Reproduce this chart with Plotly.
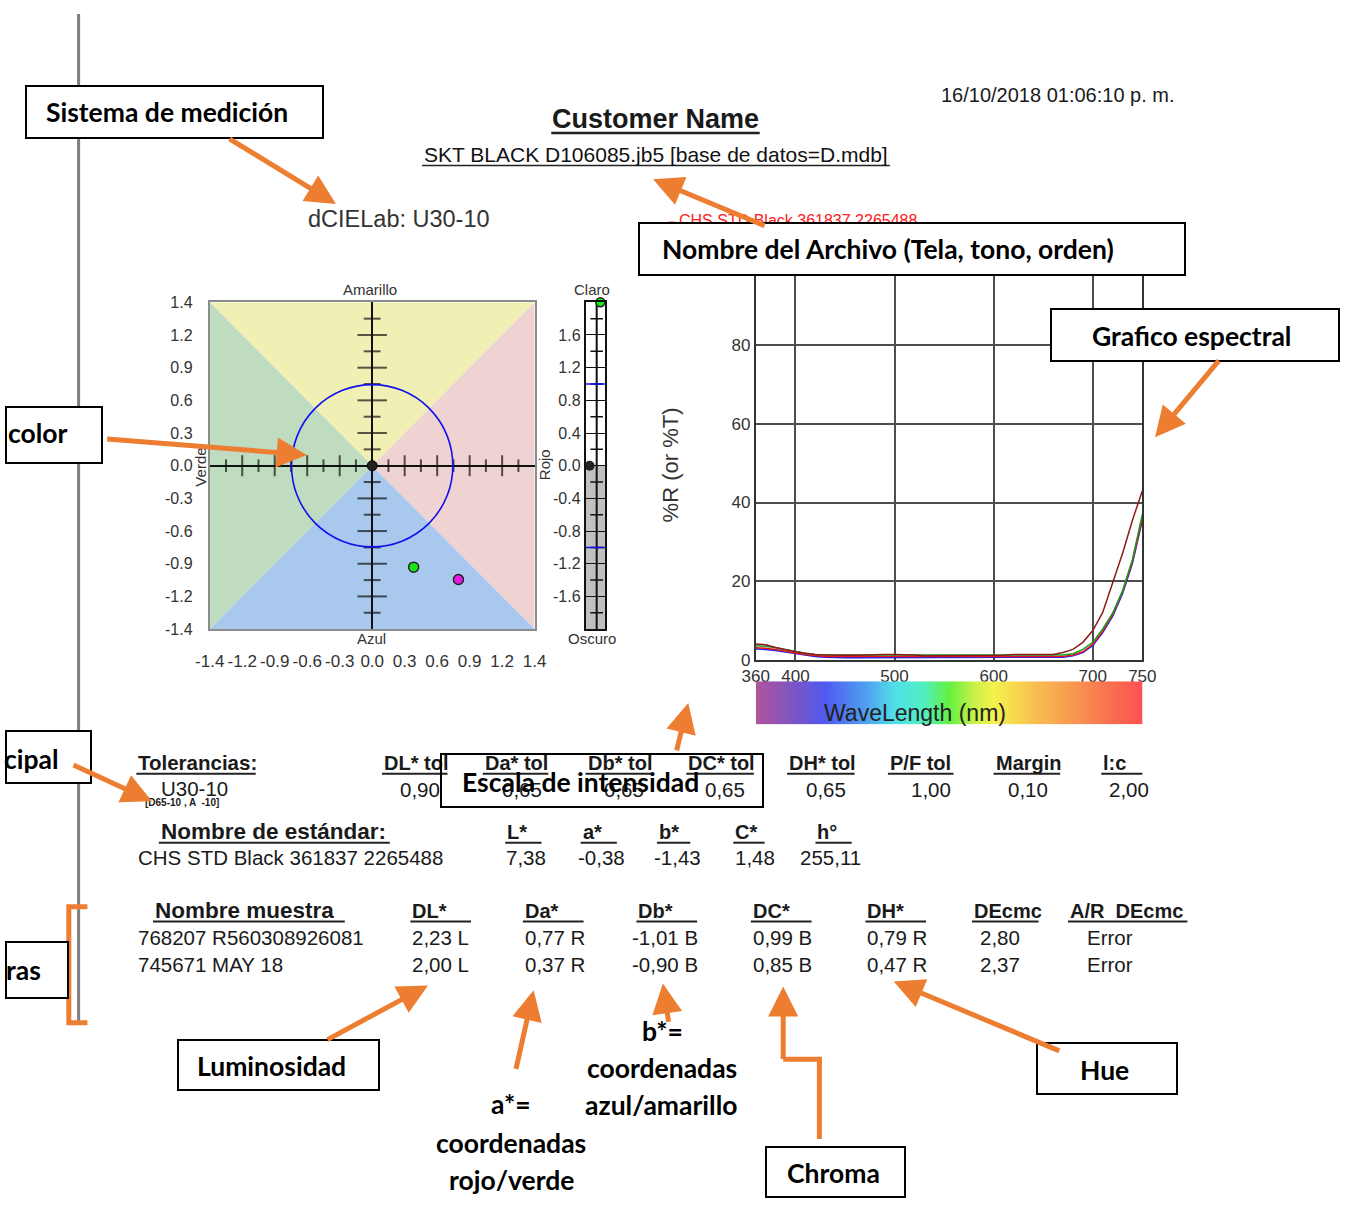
import plotly.graph_objects as go

# ---------------- DATA ----------------
AB_TICK_TEXT = ['-1.4', '-1.2', '-0.9', '-0.6', '-0.3', '0.0', '0.3', '0.6', '0.9', '1.2', '1.4']
AB_LIM = 1.45
AB_STEP = 0.29
TOL_RADIUS = 0.72
L_TICK_VALS = [1.6, 1.2, 0.8, 0.4, 0.0, -0.4, -0.8, -1.2, -1.6]
L_TICK_TEXT = ['1.6', '1.2', '0.8', '0.4', '0.0', '-0.4', '-0.8', '-1.2', '-1.6']
L_LIM = 2.0
L_TOL = 1.0

STD_NAME = "CHS STD Black 361837 2265488"
STD_HEADERS = ['L*', 'a*', 'b*', 'C*', 'h°']
STD_VALUES = [7.38, -0.38, -1.43, 1.48, 255.11]

TOL_NAME = "U30-10"
TOL_ILLUM = "[D65-10 , A  -10]"
TOL_HEADERS = ['DL* tol', 'Da* tol', 'Db* tol', 'DC* tol', 'DH* tol', 'P/F tol', 'Margin', 'l:c']
TOL_VALUES = [0.90, 0.65, 0.65, 0.65, 0.65, 1.00, 0.10, 2.00]

SAMPLE_HEADERS = ['DL*', 'Da*', 'Db*', 'DC*', 'DH*', 'DEcmc', 'A/R  DEcmc']
SAMPLE_NAMES = ["768207 R560308926081", "745671 MAY 18"]
DL = [2.23, 2.00]
DL_TAG = ['L', 'L']
DA = [0.77, 0.37]
DA_TAG = ['R', 'R']
DB = [-1.01, -0.90]
DB_TAG = ['B', 'B']
DC = [0.99, 0.85]
DC_TAG = ['B', 'B']
DH = [0.79, 0.47]
DH_TAG = ['R', 'R']
DECMC = [2.80, 2.37]
AR = ['Error', 'Error']
SAMPLE_COLORS = ['#e619e6', '#19e619']

WAVELENGTHS = [360, 370, 380, 390, 400, 410, 420, 430, 440, 450, 460, 470, 480, 490, 500,
               510, 520, 530, 540, 550, 560, 570, 580, 590, 600, 610, 620, 630, 640, 650,
               660, 670, 680, 690, 700, 710, 720, 730, 740, 750]
R_MAROON = [4.0, 3.8, 3.1, 2.5, 2.0, 1.6, 1.3, 1.2, 1.1, 1.1, 1.1, 1.2, 1.3, 1.3, 1.3,
            1.3, 1.2, 1.0, 1.0, 1.0, 1.0, 1.0, 1.0, 1.0, 1.0, 1.1, 1.3, 1.3, 1.3, 1.3,
            1.3, 1.8, 2.6, 4.4, 7.4, 12.0, 19.5, 27.0, 35.5, 43.0]
R_RED = [3.0, 2.9, 2.6, 2.1, 1.7, 1.3, 1.0, 0.8, 0.8, 0.8, 0.8, 0.8, 0.8, 0.8, 0.8,
         0.8, 0.8, 0.8, 0.8, 0.8, 0.8, 0.8, 0.8, 0.8, 0.8, 0.8, 0.8, 0.8, 0.8, 0.8,
         0.8, 0.8, 1.2, 2.0, 3.9, 7.2, 11.4, 17.2, 25.0, 36.0]
R_GREEN = [3.5, 3.4, 3.0, 2.5, 2.0, 1.6, 1.3, 1.2, 1.2, 1.2, 1.2, 1.1, 1.1, 1.1, 1.1,
           1.1, 1.1, 1.1, 1.1, 1.1, 1.1, 1.1, 1.1, 1.1, 1.1, 1.1, 1.1, 1.1, 1.1, 1.1,
           1.1, 1.2, 1.5, 2.6, 4.4, 7.8, 11.8, 17.5, 25.5, 37.0]
R_BLUE = [2.7, 2.6, 2.3, 1.9, 1.5, 1.1, 0.8, 0.6, 0.5, 0.5, 0.5, 0.5, 0.5, 0.5, 0.5,
          0.5, 0.5, 0.5, 0.5, 0.5, 0.5, 0.5, 0.5, 0.5, 0.5, 0.5, 0.5, 0.5, 0.5, 0.5,
          0.5, 0.6, 1.0, 1.8, 3.6, 6.9, 11.0, 16.8, 24.5, 35.5]
SPEC_X_TICKS = [360, 400, 500, 600, 700, 750]
SPEC_Y_TICKS = [0, 20, 40, 60, 80, 100]

BAR_STOPS_NM = [360, 400, 430, 470, 500, 530, 555, 580, 600, 640, 680, 720, 750]
BAR_COLORS = ['#b0559c', '#7a55c8', '#5059f0', '#4f9ff0', '#50e0e8', '#50f0c0', '#66f040',
              '#c8f048', '#f6f24e', '#f8c050', '#f89850', '#f86e50', '#ff5050']

# ---------------- HELPERS ----------------
W, H = 1355, 1209
ARIAL = 'Liberation Sans, Arial, sans-serif'
CALLOUT = 'Lato, Open Sans, sans-serif'
ORANGE = '#ed7d31'
TXT = '#1a1a1a'


def px(x):
    return x / W


def py(y):
    return 1 - y / H


def fmt(v):
    return f"{v:.2f}".replace('.', ',')


annotations = []
shapes = []


def txt(x, y, s, size=20.5, color=TXT, anchor='left', family=ARIAL, angle=0, weight='normal'):
    annotations.append(dict(x=px(x), y=py(y), xref='paper', yref='paper', text=s, showarrow=False,
                            xanchor=anchor, yanchor='middle', textangle=angle,
                            font=dict(family=family, size=size, color=color, weight=weight)))


def hline(x0, x1, y, color='#222', width=2):
    shapes.append(dict(type='line', xref='paper', yref='paper', x0=px(x0), x1=px(x1), y0=py(y), y1=py(y),
                       line=dict(color=color, width=width)))


def box(x0, y0, x1, y1, fill=True):
    annotations.append(dict(x=px(x0), y=py(y0), xref='paper', yref='paper', xanchor='left', yanchor='top',
                            text='\u00a0', showarrow=False, width=x1 - x0 - 2, height=y1 - y0 - 2,
                            bordercolor='black', borderwidth=2, borderpad=0,
                            bgcolor='white' if fill else 'rgba(0,0,0,0)'))


def arrow(tx, ty, hx, hy):
    annotations.append(dict(x=px(hx), y=py(hy), xref='paper', yref='paper', ax=tx - hx, ay=ty - hy,
                            axref='pixel', ayref='pixel', text='', showarrow=True, arrowhead=2,
                            arrowsize=1.2, arrowwidth=5, arrowcolor=ORANGE, standoff=0))


fig = go.Figure()

# ---------------- a*b* diagram ----------------
L = AB_LIM
quads = [([-L, L, 0], [L, L, 0], '#f0f0b4'),
         ([L, L, 0], [L, -L, 0], '#efd2d2'),
         ([-L, L, 0], [-L, -L, 0], '#a8c8ee'),
         ([-L, -L, 0], [L, -L, 0], '#c0dcc0')]
for qx, qy, col in quads:
    path = f"M {qx[0]} {qy[0]} L {qx[1]} {qy[1]} L {qx[2]} {qy[2]} Z"
    shapes.append(dict(type='path', xref='x', yref='y', path=path, fillcolor=col, line=dict(width=0),
                       layer='below'))
shapes.append(dict(type='circle', xref='x', yref='y', x0=-TOL_RADIUS, x1=TOL_RADIUS, y0=-TOL_RADIUS,
                   y1=TOL_RADIUS, line=dict(color='#1010ee', width=1.6)))

half = AB_STEP / 2
kk = [k for k in range(-9, 10) if k != 0]
fig.add_trace(go.Scatter(x=[k * half for k in kk], y=[0] * len(kk), mode='markers', xaxis='x', yaxis='y',
                         marker=dict(symbol='line-ns', size=[15 if k % 2 == 0 else 9 for k in kk],
                                     line=dict(color='#111', width=2)), hoverinfo='skip'))
fig.add_trace(go.Scatter(y=[k * half for k in kk], x=[0] * len(kk), mode='markers', xaxis='x', yaxis='y',
                         marker=dict(symbol='line-ew', size=[21 if k % 2 == 0 else 12 for k in kk],
                                     line=dict(color='#111', width=2)), hoverinfo='skip'))
fig.add_trace(go.Scatter(x=[0], y=[0], mode='markers', xaxis='x', yaxis='y',
                         marker=dict(size=10, color='#222', line=dict(color='#000', width=1))))
fig.add_trace(go.Scatter(x=DA, y=DB, mode='markers', xaxis='x', yaxis='y',
                         marker=dict(size=10, color=SAMPLE_COLORS, line=dict(color='#222', width=1.5))))

# ---------------- Lightness bar ----------------
shapes.append(dict(type='rect', xref='x2', yref='y2', x0=0, x1=1, y0=-L_LIM, y1=0, fillcolor='#c0c0c0',
                   line=dict(width=0), layer='below'))
LX_LINE, LX_STD, LX_SMP = 0.57, 0.21, 0.76
fig.add_trace(go.Scatter(x=[LX_LINE, LX_LINE], y=[-L_LIM, L_LIM], mode='lines', xaxis='x2', yaxis='y2',
                         line=dict(color='#111', width=2), hoverinfo='skip'))
odd = [v + 0.2 for v in L_TICK_VALS] + [-1.8]
fig.add_trace(go.Scatter(x=[LX_LINE] * len(odd), y=odd, mode='markers', xaxis='x2', yaxis='y2',
                         marker=dict(symbol='line-ew', size=9, line=dict(color='#111', width=1.5)),
                         hoverinfo='skip'))
for tv in (L_TOL, -L_TOL):
    fig.add_trace(go.Scatter(x=[-0.15, 1], y=[tv, tv], mode='lines', xaxis='x2', yaxis='y2', cliponaxis=False,
                             line=dict(color='#1010ee', width=1.5), hoverinfo='skip'))
fig.add_trace(go.Scatter(x=[LX_STD], y=[0], mode='markers', xaxis='x2', yaxis='y2', cliponaxis=False,
                         marker=dict(size=10, color='#222')))
for i in range(len(DL)):
    fig.add_trace(go.Scatter(x=[LX_SMP], y=[DL[i]], mode='markers', xaxis='x2', yaxis='y2',
                             cliponaxis=(DL[i] > L_LIM),
                             marker=dict(size=9, color=SAMPLE_COLORS[i], line=dict(color='#222', width=1.5))))

# ---------------- Spectral ----------------
for ys, col in [(R_BLUE, '#1a1aff'), (R_RED, '#e8141e'), (R_GREEN, '#1a9a1a'), (R_MAROON, '#8b1c1c')]:
    fig.add_trace(go.Scatter(x=WAVELENGTHS, y=ys, mode='lines', xaxis='x3', yaxis='y3',
                             line=dict(color=col, width=1.5)))

# colour bar
span = BAR_STOPS_NM[-1] - BAR_STOPS_NM[0]
cscale = [[(w - BAR_STOPS_NM[0]) / span, c] for w, c in zip(BAR_STOPS_NM, BAR_COLORS)]
fig.add_trace(go.Heatmap(x=BAR_STOPS_NM, y=[0, 1], z=[BAR_STOPS_NM, BAR_STOPS_NM], zsmooth='best',
                         colorscale=cscale, zmin=BAR_STOPS_NM[0], zmax=BAR_STOPS_NM[-1], showscale=False,
                         xaxis='x4', yaxis='y4', hoverinfo='skip'))

# ---------------- Texts ----------------
txt(1066, 87, "16/10/2018 01:06:10 p. m.", size=20, anchor='center')
txt(654, 112, "<b>Customer Name</b>", size=27, anchor='center')
hline(548, 761, 126, width=2.5)
txt(655, 148, "SKT BLACK D106085.jb5 [base de datos=D.mdb]", size=21, anchor='center', color='#111')
hline(416, 894, 159, width=1.5)
txt(297, 213, "dCIELab: U30-10", size=23.5, color='#333')
hline(668, 674, 217, color='#ff2020', width=2)
txt(676, 215, "CHS STD Black 361837 2265488", size=16, color='#ff2020')

# a*b* labels
txt(363, 285, "Amarillo", size=15, anchor='center', color='#333')
txt(364, 640, "Azul", size=15, anchor='center', color='#333')
txt(190, 465, "Verde", size=15, anchor='center', color='#333', angle=-90)
txt(541, 463, "Rojo", size=15, anchor='center', color='#333', angle=-90)
txt(590, 285, "Claro", size=15, anchor='center', color='#333')
txt(590, 640, "Oscuro", size=15, anchor='center', color='#333')
txt(670, 463, "%R (or %T)", size=22, anchor='center', color='#333', angle=-90)
txt(920, 715, "WaveLength (nm)", size=23, anchor='center', color='#222')

# Table: tolerances
txt(124, 766, "<b>Tolerancias:</b>", size=20.5)
hline(124, 246, 777)
TOL_X = [375, 478, 583, 686, 789, 892, 1000, 1110]
TOL_UL = [442, 545, 650, 755, 858, 959, 1068, 1152]
TOL_VAL_R = [436, 541, 645, 748, 851, 959, 1058, 1161]
for h, x0, x1, xr, v in zip(TOL_HEADERS, TOL_X, TOL_UL, TOL_VAL_R, TOL_VALUES):
    txt(x0, 766, f"<b>{h}</b>", size=20)
    hline(x0, x1, 777)
    txt(xr, 793, fmt(v), anchor='right')
txt(147, 792, TOL_NAME)
txt(131, 806, f"<b>{TOL_ILLUM}</b>", size=10)

# Table: standard
txt(147, 836, "<b>Nombre de estándar:</b>", size=22.5)
hline(147, 383, 847)
STD_X = [501, 578, 656, 734, 818]
STD_UL = [538, 615, 690, 766, 855]
STD_VAL_R = [545, 625, 703, 779, 867]
for h, x0, x1, xr, v in zip(STD_HEADERS, STD_X, STD_UL, STD_VAL_R, STD_VALUES):
    txt(x0, 836, f"<b>{h}</b>", size=20)
    hline(x0, x1, 847)
    txt(xr, 862, fmt(v), anchor='right')
txt(124, 862, STD_NAME)

# Table: samples
txt(141, 916, "<b>Nombre muestra</b>", size=22.5)
hline(141, 337, 927)
SMP_X = [404, 519, 635, 752, 869, 978, 1076]
SMP_UL = [466, 581, 697, 814, 931, 1046, 1198]
for h, x0, x1 in zip(SAMPLE_HEADERS, SMP_X, SMP_UL):
    txt(x0, 916, f"<b>{h}</b>", size=20)
    hline(x0, x1, 927)
ROW_Y = [943, 971]
for i in range(len(SAMPLE_NAMES)):
    y = ROW_Y[i]
    txt(124, y, SAMPLE_NAMES[i])
    txt(404, y, f"{fmt(DL[i])} {DL_TAG[i]}")
    txt(519, y, f"{fmt(DA[i])} {DA_TAG[i]}")
    txt(628, y, f"{fmt(DB[i])} {DB_TAG[i]}")
    txt(752, y, f"{fmt(DC[i])} {DC_TAG[i]}")
    txt(869, y, f"{fmt(DH[i])} {DH_TAG[i]}")
    txt(984, y, fmt(DECMC[i]))
    txt(1093, y, AR[i])

# ---------------- Page decorations ----------------
shapes.append(dict(type='line', xref='paper', yref='paper', x0=px(65), x1=px(65), y0=py(5), y1=py(1030),
                   line=dict(color='#7f7f7f', width=3)))
shapes.append(dict(type='path', xref='paper', yref='paper',
                   path=f"M {px(74)} {py(912)} L {px(55)} {py(912)} L {px(55)} {py(1030)} L {px(74)} {py(1030)}",
                   line=dict(color=ORANGE, width=5)))
shapes.append(dict(type='line', xref='paper', yref='paper', x0=px(36), x1=px(55), y0=py(969), y1=py(969),
                   line=dict(color=ORANGE, width=5)))
shapes.append(dict(type='path', xref='paper', yref='paper',
                   path=f"M {px(822)} {py(1148)} L {px(822)} {py(1067)} L {px(785)} {py(1067)}",
                   line=dict(color=ORANGE, width=5)))

# callout boxes (drawn above page content)
box(10, 77, 307, 129)
box(637, 216, 1183, 268)
box(1058, 304, 1346, 356)
box(-10, 403, 86, 459)
box(-10, 733, 75, 785)
box(-10, 947, 52, 1003)
box(434, 756, 756, 809, fill=False)
box(166, 1046, 367, 1096)
box(1043, 1050, 1183, 1101)
box(766, 1155, 905, 1205)

CW = 'bold'
CS = 26.5
txt(30, 105, "Sistema de medición", size=CS, family=CALLOUT, weight=CW, color='#000')
txt(659, 244, "Nombre del Archivo (Tela, tono, orden)", size=CS, family=CALLOUT, weight=CW, color='#000')
txt(1202, 332, "Grafico espectral", size=CS, family=CALLOUT, weight=CW, color='#000', anchor='center')
txt(56, 431, "color", size=CS, family=CALLOUT, weight=CW, color='#000', anchor='right')
txt(47, 762, "cipal", size=CS, family=CALLOUT, weight=CW, color='#000', anchor='right')
txt(29, 976, "ras", size=CS, family=CALLOUT, weight=CW, color='#000', anchor='right')
txt(455, 785, "Escala de intensidad", size=CS, family=CALLOUT, weight=CW, color='#000')
txt(262, 1074, "Luminosidad", size=CS, family=CALLOUT, weight=CW, color='#000', anchor='center')
txt(1113, 1078, "Hue", size=CS, family=CALLOUT, weight=CW, color='#000', anchor='center')
txt(836, 1183, "Chroma", size=CS, family=CALLOUT, weight=CW, color='#000', anchor='center')
txt(662, 1038, "b*=", size=CS, family=CALLOUT, weight=CW, color='#000', anchor='center')
txt(661, 1076, "coordenadas", size=CS, family=CALLOUT, weight=CW, color='#000', anchor='center')
txt(661, 1114, "azul/amarillo", size=CS, family=CALLOUT, weight=CW, color='#000', anchor='center')
txt(507, 1112, "a*=", size=CS, family=CALLOUT, weight=CW, color='#000', anchor='center')
txt(507, 1152, "coordenadas", size=CS, family=CALLOUT, weight=CW, color='#000', anchor='center')
txt(507, 1190, "rojo/verde", size=CS, family=CALLOUT, weight=CW, color='#000', anchor='center')

arrow(220, 132, 328, 198)
arrow(765, 220, 652, 173)
arrow(1230, 357, 1165, 435)
arrow(97, 437, 298, 453)
arrow(60, 768, 140, 805)
arrow(676, 754, 688, 705)
arrow(320, 1047, 422, 992)
arrow(512, 1077, 530, 997)
arrow(668, 1030, 662, 990)
arrow(785, 1067, 785, 993)
arrow(1065, 1058, 898, 988)

AB_TICKS = [-AB_LIM + AB_STEP * i for i in range(len(AB_TICK_TEXT))]
tickfont = dict(family=ARIAL, size=16, color='#333')

fig.update_layout(
    width=W, height=H, margin=dict(l=0, r=0, t=0, b=0), paper_bgcolor='white', plot_bgcolor='white',
    showlegend=False,
    xaxis=dict(domain=[px(199), px(531)], range=[-AB_LIM, AB_LIM], tickvals=AB_TICKS, ticktext=AB_TICK_TEXT,
               tickfont=dict(family=ARIAL, size=17, color='#333'), showgrid=False, zeroline=True,
               zerolinecolor='#111', zerolinewidth=2,
               showline=True, mirror=True, linecolor='#8c8c8c', linewidth=2, ticks='outside', ticklen=16,
               tickcolor='rgba(0,0,0,0)', anchor='y', fixedrange=True),
    yaxis=dict(domain=[py(630), py(298)], range=[-AB_LIM, AB_LIM], tickvals=AB_TICKS, ticktext=AB_TICK_TEXT,
               tickfont=tickfont, showgrid=False, zeroline=True, zerolinecolor='#111', zerolinewidth=2,
               showline=True, mirror=True, linecolor='#8c8c8c', linewidth=2, ticks='outside', ticklen=12,
               tickcolor='rgba(0,0,0,0)', anchor='x', fixedrange=True),
    xaxis2=dict(domain=[px(583), px(603)], range=[0, 1], showticklabels=False, showgrid=False, zeroline=False,
                showline=True, mirror=True, linecolor='#111', linewidth=1.5, anchor='y2', ticks=''),
    yaxis2=dict(domain=[py(630), py(298)], range=[-L_LIM, L_LIM], tickvals=L_TICK_VALS, ticktext=L_TICK_TEXT,
                tickfont=tickfont, showgrid=True, gridcolor='#111', gridwidth=1, zeroline=False,
                showline=True, mirror=True, linecolor='#111', linewidth=1.5, anchor='x2', ticks=''),
    xaxis3=dict(domain=[px(757), px(1152)], range=[WAVELENGTHS[0], WAVELENGTHS[-1]], tickvals=SPEC_X_TICKS,
                tickfont=dict(family=ARIAL, size=17, color='#333'), showgrid=True, gridcolor='#4d4d4d',
                gridwidth=2, zeroline=False, showline=True, mirror=True, linecolor='#333', linewidth=2,
                anchor='y3', ticks=''),
    yaxis3=dict(domain=[py(661), py(262)], range=[0, 100], tickvals=SPEC_Y_TICKS,
                tickfont=dict(family=ARIAL, size=17, color='#333'), showgrid=True, gridcolor='#4d4d4d',
                gridwidth=2, zeroline=False, showline=True, mirror=True, linecolor='#333', linewidth=2,
                anchor='x3', ticks=''),
    xaxis4=dict(domain=[px(757), px(1152)], range=[BAR_STOPS_NM[0], BAR_STOPS_NM[-1]], visible=False,
                anchor='y4'),
    yaxis4=dict(domain=[py(727), py(683)], range=[0, 1], visible=False, anchor='x4'),
    shapes=shapes, annotations=annotations,
)

fig.write_html("out.html")
